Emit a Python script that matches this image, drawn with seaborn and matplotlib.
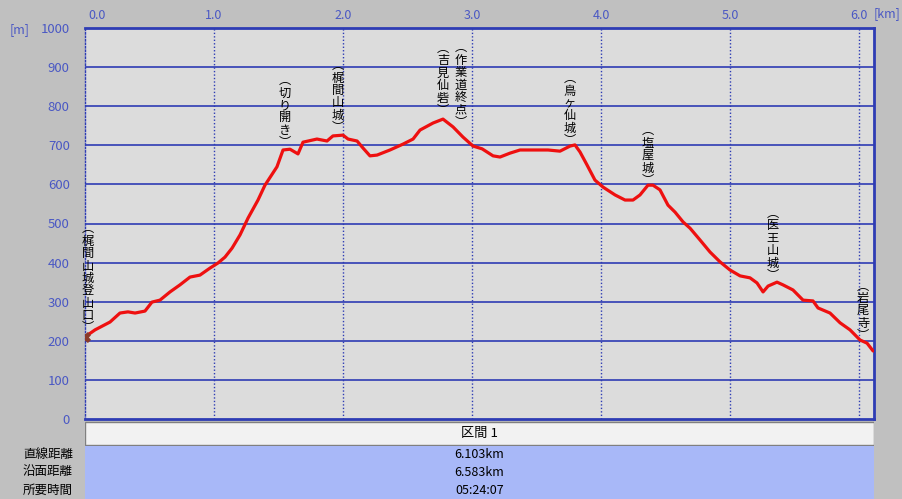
import matplotlib
matplotlib.use("Agg")
import matplotlib.pyplot as plt
import matplotlib.transforms as mtransforms
from matplotlib.patches import Rectangle
import pandas as pd
import seaborn as sns

# elevation profile (distance in km, elevation in m)
dist_km = [0.00, 0.078, 0.194, 0.271, 0.333, 0.388, 0.465, 0.519, 0.581, 0.659,
           0.736, 0.814, 0.891, 0.969, 1.031, 1.085, 1.140, 1.202, 1.264, 1.341,
           1.395, 1.488, 1.535, 1.589, 1.651, 1.690, 1.798, 1.876, 1.922, 2.000,
           2.039, 2.109, 2.155, 2.209, 2.264, 2.364, 2.465, 2.543, 2.597, 2.698,
           2.775, 2.853, 2.930, 3.008, 3.078, 3.163, 3.217, 3.295, 3.372, 3.488,
           3.589, 3.682, 3.760, 3.798, 3.837, 3.891, 3.953, 4.016, 4.109, 4.186,
           4.248, 4.302, 4.364, 4.403, 4.457, 4.519, 4.574, 4.636, 4.690, 4.767,
           4.845, 4.922, 5.000, 5.078, 5.155, 5.209, 5.256, 5.295, 5.364, 5.411,
           5.488, 5.566, 5.643, 5.682, 5.775, 5.853, 5.930, 6.008, 6.062, 6.109]
elev_m = [210, 228, 248, 271, 274, 271, 276, 299, 304, 325,
          343, 363, 368, 386, 399, 414, 437, 471, 514, 560,
          598, 645, 688, 690, 678, 708, 716, 711, 724, 726,
          716, 711, 693, 673, 675, 688, 703, 716, 739, 757,
          767, 747, 721, 698, 691, 673, 670, 680, 688, 688,
          688, 685, 698, 701, 683, 650, 611, 593, 573, 560,
          560, 573, 598, 598, 586, 547, 529, 504, 488, 458,
          427, 402, 381, 366, 361, 348, 325, 340, 350, 343,
          330, 304, 302, 284, 271, 246, 228, 202, 194, 174]

# place names along the route
place_names = ["梶間山城登山口", "切り開き", "梶間山城", "吉見仙砦", "作業道終点",
               "鳥ヶ仙城", "塩屋城", "医王山城", "岩尾寺"]
place_km = [0.023, 1.550, 1.961, 2.775, 2.915, 3.760, 4.364, 5.333, 6.031]
place_top_m = [503, 882, 920, 964, 966, 887, 754, 542, 357]

km_ticks = [0, 1, 2, 3, 4, 5, 6]
m_ticks = list(range(0, 1001, 100))

section_name = "区間 1"
row_labels = ["直線距離", "沿面距離", "所要時間"]
row_values = ["6.103km", "6.583km", "05:24:07"]

sns.set_style("white")
plt.rcParams['font.family'] = ['Noto Sans CJK JP', 'DejaVu Sans']

W, H = 903, 499
fig = plt.figure(figsize=(W / 100, H / 100), dpi=100, facecolor='#c0c0c0')

blue = '#2e3cb4'
tick_blue = '#4a58c4'

# main profile axes
ax = fig.add_axes([85 / W, 1 - 419 / H, (874 - 85) / W, (419 - 28) / H])
ax.set_facecolor('#dcdcdc')

df = pd.DataFrame({'km': dist_km, 'm': elev_m})
sns.lineplot(data=df, x='km', y='m', color='#ee1010', linewidth=2.3, ax=ax, zorder=3)
ax.scatter([dist_km[0]], [elev_m[0]], marker='X', s=45, color='#8a3a2a', zorder=4)

ax.set_xlim(0, 6.116)
ax.set_ylim(0, 1000)
ax.set_xticks(km_ticks)
ax.set_xticklabels([f"{k:.1f}" for k in km_ticks])
ax.set_yticks(m_ticks)
ax.xaxis.tick_top()
ax.tick_params(axis='x', length=0, pad=4, labelsize=9, colors=tick_blue)
ax.tick_params(axis='y', length=0, pad=11, labelsize=9.5, colors=tick_blue)
ax.set_xlabel('')
ax.set_ylabel('')

# shift the first km label a bit right like the original
first = ax.get_xticklabels()[0]
first.set_transform(first.get_transform() + mtransforms.ScaledTranslation(12 / 100, 0, fig.dpi_scale_trans))

ax.grid(False)
for v in m_ticks[1:-1]:
    ax.axhline(v, color=blue, linewidth=1.2, zorder=1)
for k in km_ticks[1:]:
    ax.axvline(k, color=blue, linewidth=1.0, linestyle=(0, (1, 1.5)), zorder=1)

for side in ['top', 'bottom', 'right']:
    ax.spines[side].set_color(blue)
    ax.spines[side].set_linewidth(2)
ax.spines['left'].set_color(blue)
ax.spines['left'].set_linewidth(1)
ax.spines['left'].set_linestyle((0, (1, 1.5)))

for name, k, top in zip(place_names, place_km, place_top_m):
    vert = "\n".join(["︵"] + list(name) + ["︶"])
    ax.text(k, top, vert, ha='center', va='top', fontsize=8.8, linespacing=0.94,
            color='black', zorder=5)

fig.text(10 / W, 1 - 30 / H, "[m]", color=tick_blue, fontsize=9, ha='left', va='center')
fig.text(887 / W, 1 - 14 / H, "[km]", color=tick_blue, fontsize=9, ha='center', va='center')

# summary table below the chart
tab = fig.add_axes([85 / W, 0, (874 - 85) / W, (499 - 421) / H])
tab.set_xlim(0, 1)
tab.set_ylim(78, 0)
tab.axis('off')
tab.add_patch(Rectangle((0, 1), 1, 23, facecolor='#f2f2f2', edgecolor='#808080', linewidth=1))
tab.add_patch(Rectangle((0, 25), 1, 53, facecolor='#a8b8f8', edgecolor='none'))
tab.text(0.5, 12.5, section_name, ha='center', va='center', fontsize=9.5, color='black')
for i, (lab, val) in enumerate(zip(row_labels, row_values)):
    y_px = 454 + i * 18
    tab.text(0.5, y_px - 421, val, ha='center', va='center', fontsize=9, color='black')
    fig.text(73 / W, 1 - y_px / H, lab, ha='right', va='center', fontsize=9, color='black')

fig.savefig("out.png", dpi=100, facecolor=fig.get_facecolor())
